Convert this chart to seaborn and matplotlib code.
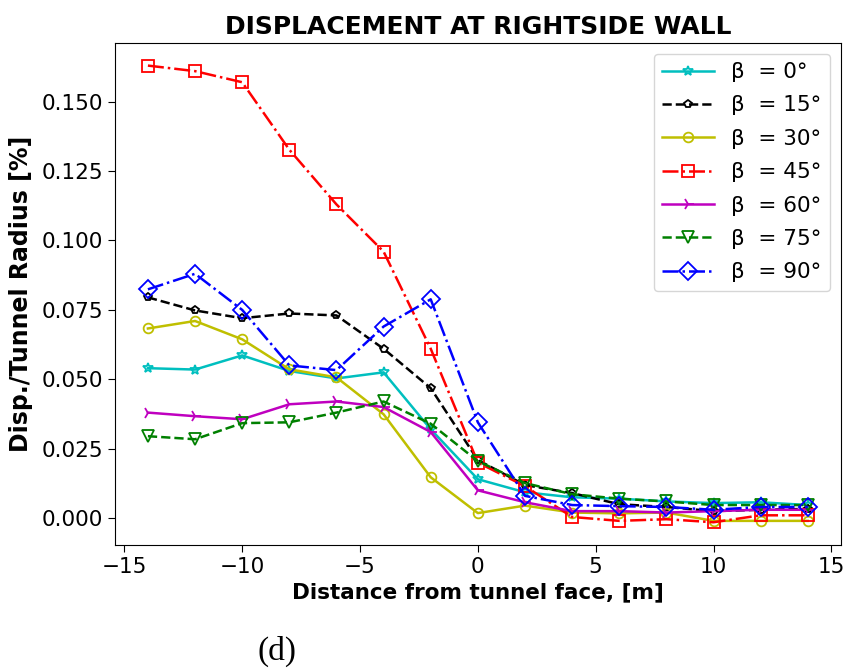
import numpy as np
import pandas as pd
import matplotlib
matplotlib.use("Agg")
import matplotlib.pyplot as plt
import seaborn as sns

distance = [-14, -12, -10, -8, -6, -4, -2, 0, 2, 4, 6, 8, 10, 12, 14]

beta_0 = [0.054, 0.0535, 0.0586, 0.053, 0.0503, 0.0525, 0.032, 0.014, 0.0093, 0.0075, 0.007, 0.006, 0.0054, 0.0057, 0.0047]
beta_15 = [0.0795, 0.0748, 0.072, 0.0737, 0.073, 0.061, 0.0468, 0.0209, 0.0119, 0.009, 0.005, 0.004, 0.0025, 0.003, 0.0033]
beta_30 = [0.0683, 0.071, 0.0644, 0.0536, 0.0507, 0.0374, 0.0147, 0.0018, 0.0045, 0.002, 0.0017, 0.002, -0.001, -0.001, -0.001]
beta_45 = [0.163, 0.161, 0.157, 0.1327, 0.113, 0.096, 0.061, 0.020, 0.0115, 0.0004, -0.001, -0.0004, -0.0015, 0.001, 0.001]
beta_60 = [0.038, 0.0367, 0.0356, 0.041, 0.042, 0.040, 0.031, 0.010, 0.0057, 0.0025, 0.0025, 0.002, 0.0025, 0.003, 0.003]
beta_75 = [0.0295, 0.0284, 0.0342, 0.0345, 0.038, 0.042, 0.034, 0.0205, 0.0126, 0.0086, 0.007, 0.006, 0.0047, 0.0047, 0.0047]
beta_90 = [0.0824, 0.088, 0.075, 0.055, 0.0533, 0.069, 0.0788, 0.0345, 0.008, 0.0047, 0.0043, 0.004, 0.003, 0.004, 0.004]

labels = ["β  = 0°", "β  = 15°", "β  = 30°", "β  = 45°", "β  = 60°", "β  = 75°", "β  = 90°"]
series = [beta_0, beta_15, beta_30, beta_45, beta_60, beta_75, beta_90]

colors = ["c", "k", "y", "r", "m", "g", "b"]
styles = ["-", "--", "-", "-.", "-", "--", "-."]
markers = ["*", "p", "o", "s", "4", "v", "D"]
msizes = [7, 6, 7, 8, 9, 8, 9]

fig = plt.figure(figsize=(8.45, 6.68), dpi=100)
ax = fig.add_axes([0.136, 0.184, 0.859, 0.752])

for lab, vals, c, ls, mk, ms in zip(labels, series, colors, styles, markers, msizes):
    df = pd.DataFrame({"x": distance, "y": vals})
    sns.lineplot(data=df, x="x", y="y", ax=ax, color=c, linestyle=ls,
                 marker=mk, markersize=ms, markerfacecolor="none",
                 markeredgecolor=c, markeredgewidth=1.3, linewidth=1.8,
                 label=lab, legend=False)

ax.set_xticks([-15, -10, -5, 0, 5, 10, 15])
ax.set_yticks([0.0, 0.025, 0.05, 0.075, 0.1, 0.125, 0.15])
ax.yaxis.set_major_formatter(matplotlib.ticker.FormatStrFormatter("%.3f"))
ax.tick_params(labelsize=15.5, length=5)
ax.set_xlabel("Distance from tunnel face, [m]", fontsize=15.5, fontweight="bold")
ax.set_ylabel("Disp./Tunnel Radius [%]", fontsize=17, fontweight="bold", labelpad=6)
ax.set_title("DISPLACEMENT AT RIGHTSIDE WALL", fontsize=18, fontweight="bold")
ax.legend(loc="upper right", fontsize=15.5, labelspacing=0.62, handlelength=2.4)

fig.text(0.305, 0.012, "(d)", fontsize=24, family="Liberation Serif")

fig.savefig("out.png", dpi=100)
